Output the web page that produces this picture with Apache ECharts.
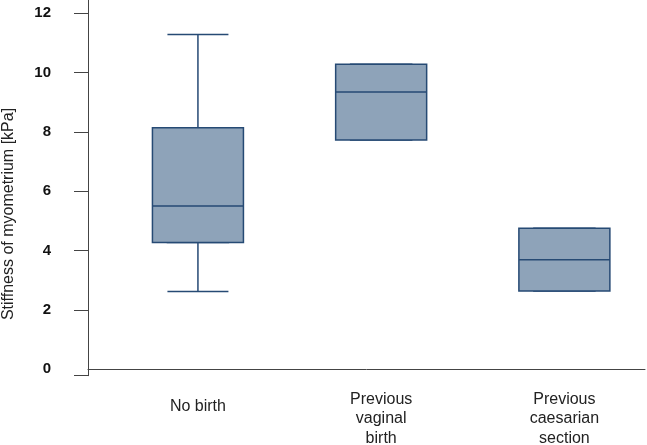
<!DOCTYPE html>
<html>
<head>
<meta charset="utf-8">
<script src="https://cdn.jsdelivr.net/npm/echarts@6/dist/echarts.min.js"></script>
<style>
  html, body { margin: 0; padding: 0; background: #fff; }
  #chart { width: 647px; height: 445px; }
</style>
</head>
<body>
<div id="chart"></div>
<script>
// groups on the x axis
var categories = ['No birth', 'Previous\nvaginal\nbirth', 'Previous\ncaesarian\nsection'];
var positions = [1, 2, 3];
// five-number summaries, kPa
var mins    = [2.62, 7.73, 2.64];
var q1s     = [4.27, 7.73, 2.64];
var medians = [5.50, 9.35, 3.69];
var q3s     = [8.14, 10.28, 4.75];
var maxs    = [11.29, 10.28, 4.75];
// y axis ticks / labels
var yLabels = [0, 2, 4, 6, 8, 10, 12];
var yTicks = [-0.22, 2, 4, 6, 8, 10, 12];

var boxColor = '#8ea3b9';
var lineColor = '#264a74';

var whiskerData = [];
var boxData = [];
for (var i = 0; i < positions.length; i++) {
    whiskerData.push([positions[i], mins[i], q1s[i], medians[i], q3s[i], maxs[i]]);
    boxData.push([positions[i], q1s[i], q1s[i], medians[i], q3s[i], q3s[i]]);
}

var xAxisBase = {
    type: 'value',
    min: 0.4,
    max: 3.44,
    splitLine: { show: false },
    axisTick: { show: false }
};

var myChart = echarts.init(document.getElementById('chart'));
var option = {
    animation: false,
    grid: { left: 88, right: 2, top: 0, bottom: 69.3, outerBoundsMode: 'none' },
    graphic: [{
        type: 'text',
        x: 9,
        y: 214,
        rotation: Math.PI / 2,
        style: {
            text: 'Stiffness of myometrium [kPa]',
            fontFamily: 'Liberation Sans, Arial, sans-serif',
            fontSize: 16,
            fill: '#222',
            align: 'center',
            verticalAlign: 'middle'
        }
    }],
    xAxis: [
        echarts.util.merge({
            axisLine: { show: true, lineStyle: { color: '#444', width: 1 } },
            axisLabel: {
                customValues: positions,
                margin: 14,
                color: '#222',
                fontFamily: 'Liberation Sans, Arial, sans-serif',
                fontSize: 16,
                lineHeight: 19.5,
                verticalAlign: 'top',
                formatter: function (v) {
                    var idx = positions.indexOf(Math.round(v));
                    if (idx < 0) return '';
                    if (categories[idx].indexOf('\n') < 0) return '{one|' + categories[idx] + '}';
                    return categories[idx];
                },
                rich: {
                    one: {
                        fontFamily: 'Liberation Sans, Arial, sans-serif',
                        fontSize: 16,
                        color: '#222',
                        lineHeight: 34
                    }
                }
            }
        }, xAxisBase, true),
        echarts.util.merge({
            show: false
        }, xAxisBase, true)
    ],
    yAxis: {
        type: 'value',
        min: -0.22,
        max: 12.45,
        splitLine: { show: false },
        axisLine: { show: true, lineStyle: { color: '#444', width: 1 } },
        axisTick: {
            show: true,
            length: 14,
            customValues: yTicks,
            lineStyle: { color: '#444', width: 1 }
        },
        axisLabel: {
            customValues: yLabels,
            margin: 37,
            color: '#111',
            fontFamily: 'Liberation Sans, Arial, sans-serif',
            fontSize: 15,
            fontWeight: 'bold'
        }
    },
    series: [
        {
            name: 'whiskers',
            type: 'boxplot',
            layout: 'horizontal',
            xAxisIndex: 1,
            boxWidth: [61, 61],
            z: 2,
            silent: true,
            itemStyle: { color: boxColor, borderColor: lineColor, borderWidth: 1.5 },
            data: whiskerData
        },
        {
            name: 'boxes',
            type: 'boxplot',
            layout: 'horizontal',
            xAxisIndex: 0,
            boxWidth: [91, 91],
            z: 3,
            silent: true,
            itemStyle: { color: boxColor, borderColor: lineColor, borderWidth: 1.5 },
            data: boxData
        }
    ]
};
myChart.setOption(option, true);
</script>
</body>
</html>
